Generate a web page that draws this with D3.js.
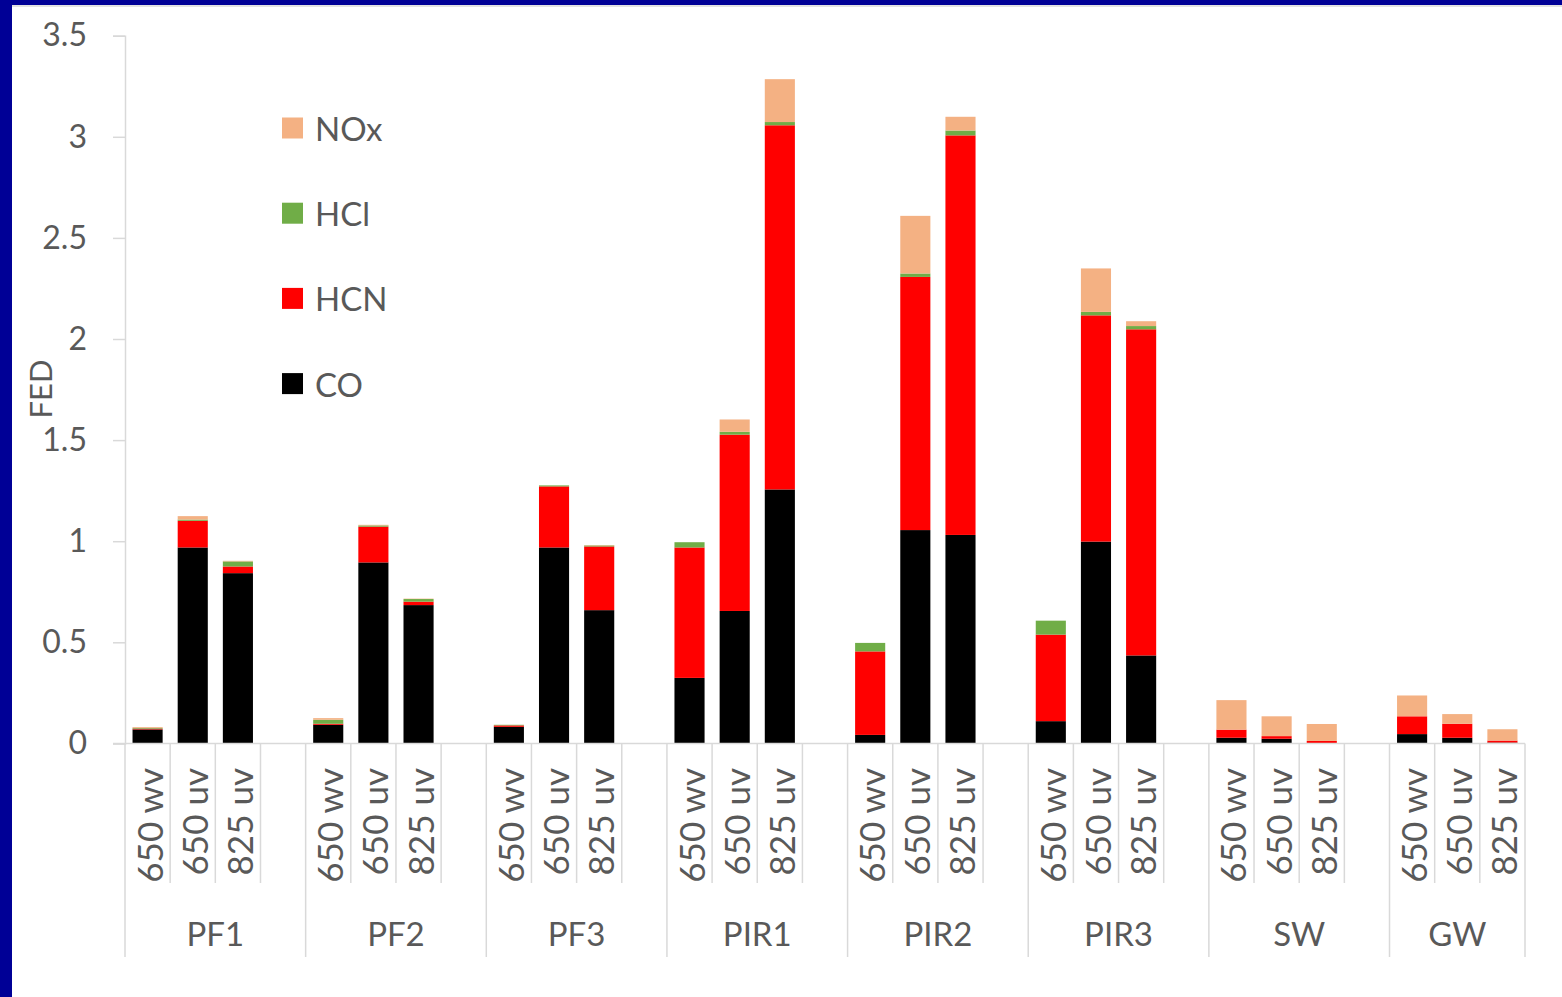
<!DOCTYPE html>
<html>
<head>
<meta charset="utf-8">
<script src="https://cdn.jsdelivr.net/npm/d3@7"></script>
<style>
  html, body { margin: 0; padding: 0; background: #fff; }
  svg { display: block; }
  text { font-family: Lato, "Open Sans", "DejaVu Sans", sans-serif; fill: #595959; }
</style>
</head>
<body>
<svg id="chart" width="1562" height="997"></svg>
<script>
// Materials and exposure conditions (outer / inner category levels)
const groups = ["PF1", "PF2", "PF3", "PIR1", "PIR2", "PIR3", "SW", "GW"];
const conditions = ["650 wv", "650 uv", "825 uv"];

// FED contribution per gas, one value per material x condition (24 bars)
const CO  = [0.069, 0.969, 0.842,  0.092, 0.895, 0.684,  0.082, 0.969, 0.659,
             0.324, 0.655, 1.256,  0.042, 1.055, 1.031,  0.110, 0.998, 0.435,
             0.028, 0.023, 0.002,  0.046, 0.028, 0.004];
const HCN = [0.004, 0.132, 0.033,  0.005, 0.177, 0.017,  0.007, 0.302, 0.315,
             0.645, 0.872, 1.801,  0.413, 1.252, 1.976,  0.428, 1.119, 1.613,
             0.040, 0.013, 0.010,  0.088, 0.069, 0.010];
const HCl = [0.004, 0.006, 0.025,  0.020, 0.006, 0.013,  0.003, 0.005, 0.005,
             0.026, 0.014, 0.016,  0.042, 0.017, 0.024,  0.069, 0.017, 0.016,
             0.000, 0.000, 0.000,  0.000, 0.000, 0.000];
const NOx = [0.004, 0.017, 0.003,  0.008, 0.003, 0.002,  0.000, 0.000, 0.002,
             0.000, 0.061, 0.212,  0.000, 0.285, 0.068,  0.000, 0.215, 0.024,
             0.146, 0.098, 0.084,  0.103, 0.048, 0.056];

const seriesNames = ["CO", "HCN", "HCl", "NOx"];
const seriesColors = ["#000000", "#ff0000", "#70ad47", "#f4b183"];
const yTickValues = [0, 0.5, 1, 1.5, 2, 2.5, 3, 3.5];
const yTickLabels = ["0", "0.5", "1", "1.5", "2", "2.5", "3", "3.5"];

const svg = d3.select("#chart");

// frame
svg.append("rect").attr("x", 0).attr("y", 0).attr("width", 1562).attr("height", 997).attr("fill", "#fff");
svg.append("rect").attr("x", 0).attr("y", 0).attr("width", 1562).attr("height", 5).attr("fill", "#000096");
svg.append("rect").attr("x", 0).attr("y", 0).attr("width", 12).attr("height", 997).attr("fill", "#000096");
svg.append("line").attr("x1", 12).attr("x2", 1562).attr("y1", 6).attr("y2", 6)
  .attr("stroke", "#d9d9d9").attr("stroke-width", 1.5);

// slots: three conditions per material, with an empty slot between materials
const slots = [];
groups.forEach((g, gi) => {
  conditions.forEach((c, ci) => slots.push({ group: g, cond: c, idx: gi * 3 + ci }));
  if (gi < groups.length - 1) slots.push({ group: g, cond: null, idx: null });
});
slots.forEach((s, i) => s.slot = i);

const x0 = 125, x1 = 1525, yBase = 743.4, yTop = 35.7;
const x = d3.scaleBand().domain(d3.range(slots.length)).range([x0, x1])
  .paddingInner(1 / 3).paddingOuter(1 / 6);
const step = x.step();
const y = d3.scaleLinear().domain([0, 3.5]).range([yBase, yTop]);

// stacked data
const rows = slots.filter(s => s.idx !== null).map(s => ({
  slot: s.slot, CO: CO[s.idx], HCN: HCN[s.idx], HCl: HCl[s.idx], NOx: NOx[s.idx]
}));
const stacked = d3.stack().keys(seriesNames)(rows);

svg.append("g").selectAll("g").data(stacked).join("g")
  .attr("fill", (d, i) => seriesColors[i])
  .selectAll("rect").data(d => d).join("rect")
  .attr("x", d => x(d.data.slot))
  .attr("width", x.bandwidth())
  .attr("y", d => y(d[1]))
  .attr("height", d => Math.max(0, y(d[0]) - y(d[1])));

// y axis
const yAxis = d3.axisLeft(y).tickValues(yTickValues)
  .tickFormat((d, i) => yTickLabels[i]).tickSize(12).tickPadding(26);
const gy = svg.append("g").attr("transform", `translate(${x0},0)`).call(yAxis);
gy.select(".domain").attr("stroke", "#d9d9d9").attr("stroke-width", 1.5);
gy.selectAll(".tick line").attr("stroke", "#d9d9d9").attr("stroke-width", 1.5);
gy.selectAll(".tick text").attr("font-size", 32).attr("fill", "#595959")
  .attr("font-family", "Lato, 'Open Sans', sans-serif");

// category axis baseline
svg.append("line").attr("x1", 113).attr("x2", x1).attr("y1", yBase).attr("y2", yBase)
  .attr("stroke", "#d9d9d9").attr("stroke-width", 1.5);

// slot separators: long at material boundaries, short inside
const boundaries = [];
for (let i = 0; i <= slots.length; i++) {
  const bx = x0 + i * step;
  const isGroupEdge = i === 0 || i === slots.length || (slots[i - 1].cond === null);
  boundaries.push({ bx, long: isGroupEdge });
}
svg.append("g").selectAll("line").data(boundaries).join("line")
  .attr("x1", d => d.bx).attr("x2", d => d.bx)
  .attr("y1", yBase).attr("y2", d => d.long ? 957 : 883)
  .attr("stroke", "#d9d9d9").attr("stroke-width", 1.5);

// condition labels, rotated
svg.append("g").selectAll("text").data(slots.filter(s => s.cond)).join("text")
  .attr("transform", d => `translate(${x(d.slot) + x.bandwidth() / 2 + 1},768) rotate(-90)`)
  .attr("text-anchor", "end").attr("dominant-baseline", "central")
  .attr("font-size", 35).text(d => d.cond);

// material labels, centred between the long separators of each material
svg.append("g").selectAll("text").data(groups).join("text")
  .attr("x", (g, gi) => {
    const first = gi * 4;
    const last = gi < groups.length - 1 ? gi * 4 + 4 : gi * 4 + 3;
    return x0 + (first + last) / 2 * step;
  })
  .attr("y", 946).attr("text-anchor", "middle").attr("font-size", 33).text(d => d);

// y axis title
svg.append("text").attr("transform", "translate(40,389) rotate(-90)")
  .attr("text-anchor", "middle").attr("dominant-baseline", "central")
  .attr("font-size", 31).text("FED");

// legend
const legendOrder = ["NOx", "HCl", "HCN", "CO"];
const lg = svg.append("g").selectAll("g").data(legendOrder).join("g")
  .attr("transform", (d, i) => `translate(282,${128 + i * 85.2})`);
lg.append("rect").attr("x", 0).attr("y", -10.5).attr("width", 21).attr("height", 21)
  .attr("fill", d => seriesColors[seriesNames.indexOf(d)]);
lg.append("text").attr("x", 33).attr("y", 0).attr("dominant-baseline", "central")
  .attr("font-size", 33).text(d => d);
</script>
</body>
</html>
